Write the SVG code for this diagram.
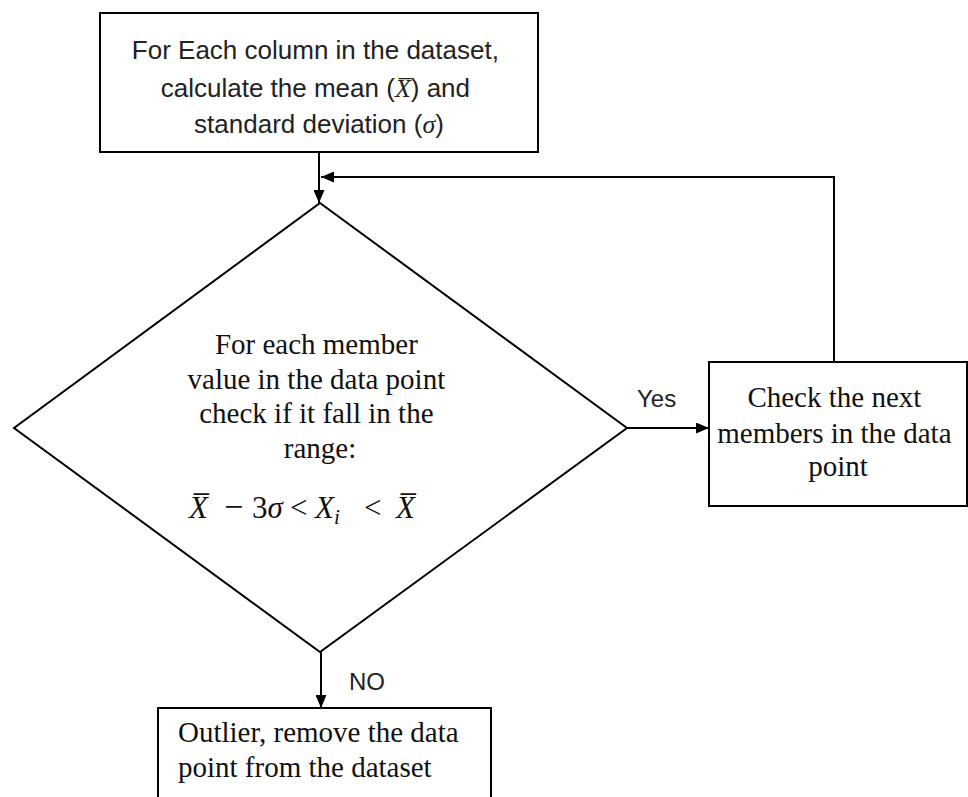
<svg xmlns="http://www.w3.org/2000/svg" width="968" height="797" viewBox="0 0 968 797">
<defs>
<style>
.box{fill:#fff;stroke:#000;stroke-width:2}
.ln{fill:none;stroke:#000;stroke-width:2}
.sans{font-family:"Liberation Sans",Arial,sans-serif;fill:#222}
.serif{font-family:"Liberation Serif","Times New Roman",serif;fill:#111}
.m{font-family:"Liberation Serif","DejaVu Serif",serif;font-style:italic}
</style>
<marker id="ah" viewBox="0 0 13 11" refX="13" refY="5.5" markerWidth="13" markerHeight="11" markerUnits="userSpaceOnUse" orient="auto">
<path d="M0,0 L13,5.5 L0,11 z" fill="#000"/>
</marker>
</defs>
<rect width="968" height="797" fill="#fff"/>
<g id="connectors">
<line class="ln" x1="319" y1="152" x2="319" y2="203" marker-end="url(#ah)"/>
<polyline class="ln" points="834,362 834,177 321,177" marker-end="url(#ah)"/>
<line class="ln" x1="627" y1="428" x2="709" y2="428" marker-end="url(#ah)"/>
<line class="ln" x1="321" y1="652" x2="321" y2="708" marker-end="url(#ah)"/>
<text class="sans" x="637" y="407" font-size="24">Yes</text>
<text class="sans" x="349" y="690" font-size="24">NO</text>
</g>
<g id="start">
<rect class="box" x="100" y="13" width="438" height="139"/>
<text class="sans" font-size="26" text-anchor="middle">
<tspan x="319" y="59">For Each column in the dataset,</tspan>
<tspan x="319" y="97">calculate the mean (<tspan class="m">X̅</tspan>) and</tspan>
<tspan x="319" y="133">standard deviation (<tspan class="m">σ</tspan>)</tspan>
</text>
</g>
<g id="decision">
<polygon class="ln" points="320,203 627,428 320,652 14,428"/>
<text class="serif" font-size="29" text-anchor="middle">
<tspan x="320" y="354">For each member</tspan>
<tspan x="320" y="389">value in the data point</tspan>
<tspan x="320" y="423">check if it fall in the</tspan>
<tspan x="320" y="458">range:</tspan>
</text>
<text class="serif" font-size="31" y="518"><tspan class="m" x="189">X̅</tspan><tspan x="224" font-size="34">−</tspan><tspan x="252">3</tspan><tspan class="m">σ</tspan><tspan x="290">&lt;</tspan><tspan class="m" x="315">X</tspan><tspan class="m" font-size="21" x="334" dy="6">i</tspan><tspan x="364" dy="-6">&lt;</tspan><tspan class="m" x="396">X̅</tspan></text>
</g>
<g id="next">
<rect class="box" x="709" y="362" width="258" height="144"/>
<text class="serif" font-size="29" text-anchor="middle">
<tspan x="838" y="407">Check the next</tspan>
<tspan x="838" y="443">members in the data</tspan>
<tspan x="838" y="476">point</tspan>
</text>
</g>
<g id="outlier">
<rect class="box" x="158" y="708" width="333" height="100"/>
<text class="serif" font-size="29">
<tspan x="178" y="742">Outlier, remove the data</tspan>
<tspan x="178" y="777">point from the dataset</tspan>
</text>
</g>
</svg>
